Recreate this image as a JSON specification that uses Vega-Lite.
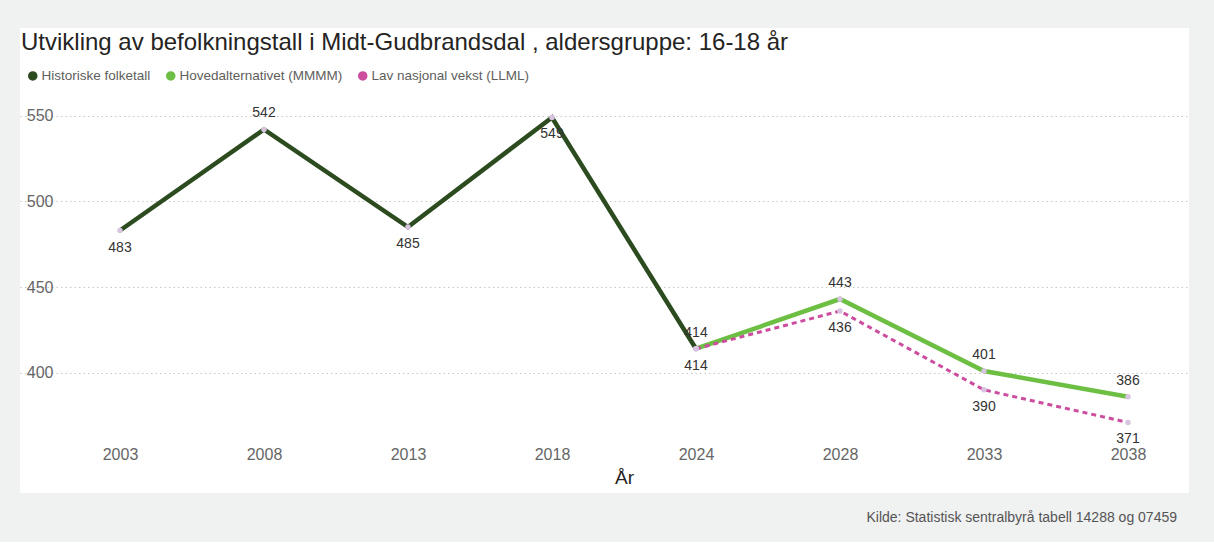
{
  "$schema": "https://vega.github.io/schema/vega-lite/v6.json",
  "background": "#f0f1f1",
  "padding": {"left": 20, "top": 28, "right": 25, "bottom": 17},
  "config": {"view": {"stroke": null, "fill": "white"}, "font": "Liberation Sans"},
  "title": {"text": "Kilde: Statistisk sentralbyrå tabell 14288 og 07459", "orient": "bottom", "anchor": "end", "fontSize": 14, "fontWeight": "normal", "color": "#555555", "offset": 29, "dx": -12, "baseline": "alphabetic"},
  "vconcat": [
    {
      "width": 1169,
      "height": 465,
      "data": {"values": [
        {"year": 2003, "series": "Historiske folketall", "value": 483},
        {"year": 2008, "series": "Historiske folketall", "value": 542},
        {"year": 2013, "series": "Historiske folketall", "value": 485},
        {"year": 2018, "series": "Historiske folketall", "value": 549},
        {"year": 2024, "series": "Historiske folketall", "value": 414},
        {"year": 2024, "series": "Hovedalternativet (MMMM)", "value": 414},
        {"year": 2028, "series": "Hovedalternativet (MMMM)", "value": 443},
        {"year": 2033, "series": "Hovedalternativet (MMMM)", "value": 401},
        {"year": 2038, "series": "Hovedalternativet (MMMM)", "value": 386},
        {"year": 2024, "series": "Lav nasjonal vekst (LLML)", "value": 414},
        {"year": 2028, "series": "Lav nasjonal vekst (LLML)", "value": 436},
        {"year": 2033, "series": "Lav nasjonal vekst (LLML)", "value": 390},
        {"year": 2038, "series": "Lav nasjonal vekst (LLML)", "value": 371}
      ]},
      "encoding": {
        "x": {"field": "year", "type": "ordinal", "scale": {"type": "point", "padding": 0.559, "align": 0.621},
          "axis": {"labelAngle": 0, "domain": false, "ticks": false, "grid": false, "offset": -47, "labelPadding": 0, "labelFontSize": 16, "labelColor": "#666666", "title": "År", "titleFontSize": 19, "titleFontWeight": "normal", "titleColor": "#252423", "titlePadding": 6, "titleX": 604}},
        "y": {"field": "value", "type": "quantitative", "scale": {"domain": [329.8, 601.2], "nice": false, "zero": false},
          "axis": {"values": [400, 450, 500, 550], "grid": true, "gridColor": "#c8c8c8", "gridDash": [1.5, 3], "gridWidth": 1.2, "domain": false, "ticks": false, "labelPadding": 0, "offset": -33, "labelFontSize": 16, "labelColor": "#666666", "title": null}}
      },
      "layer": [
        {
          "transform": [{"filter": "datum.series != 'Lav nasjonal vekst (LLML)'"}],
          "mark": {"type": "line", "strokeWidth": 4.5},
          "encoding": {
            "color": {"field": "series", "type": "nominal",
              "scale": {"domain": ["Historiske folketall", "Hovedalternativet (MMMM)", "Lav nasjonal vekst (LLML)"], "range": ["#2c4b1f", "#6dbf43", "#cc4d9e"]},
              "legend": {"title": "Utvikling av befolkningstall i Midt-Gudbrandsdal , aldersgruppe: 16-18 år", "titleFontSize": 24, "titleFontWeight": "normal", "titleColor": "#252423", "titleLimit": 1100, "titleAnchor": "start", "titleOrient": "top", "titlePadding": 14, "titleBaseline": "top",
                "orient": "none", "legendX": 1, "legendY": 3, "padding": 0, "direction": "horizontal", "symbolType": "circle", "symbolSize": 64, "symbolOffset": 5, "labelFontSize": 13.5, "labelColor": "#605e5c", "labelOffset": 2, "columnPadding": 8, "labelLimit": 400,
                "encode": {"symbols": {"update": {"fill": {"scale": "color", "field": "value"}, "stroke": {"value": "transparent"}, "strokeDash": {"value": [0]}}}}}
            }
          }
        },
        {
          "transform": [{"filter": "datum.series == 'Lav nasjonal vekst (LLML)'"}],
          "mark": {"type": "line", "strokeWidth": 3, "strokeDash": [5, 4]},
          "encoding": {"color": {"field": "series", "type": "nominal"}}
        },
        {
          "mark": {"type": "circle", "size": 30, "color": "#d8c4e0", "opacity": 1},
          "encoding": {}
        },
        {
          "transform": [{"filter": "(datum.series == 'Historiske folketall' && (datum.year == 2008 || datum.year == 2024)) || (datum.series == 'Hovedalternativet (MMMM)' && datum.year != 2024)"}],
          "mark": {"type": "text", "dy": -16, "fontSize": 14, "color": "#333333"},
          "encoding": {"text": {"field": "value", "type": "quantitative"}}
        },
        {
          "transform": [{"filter": "(datum.series == 'Historiske folketall' && (datum.year == 2003 || datum.year == 2013 || datum.year == 2018)) || datum.series == 'Lav nasjonal vekst (LLML)'"}],
          "mark": {"type": "text", "dy": 17, "fontSize": 14, "color": "#333333"},
          "encoding": {"text": {"field": "value", "type": "quantitative"}}
        }
      ]
    }
  ]
}
